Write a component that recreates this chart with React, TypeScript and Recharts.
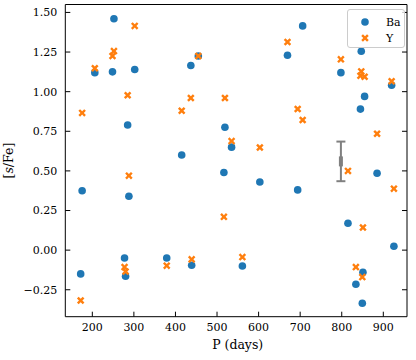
import React from 'react';
import { ScatterChart, Scatter, XAxis, YAxis, Legend, ErrorBar, Label } from 'recharts';

// one entry per star: orbital period and the two abundances
const periods = [172, 175.5, 206, 248.5, 252, 277.5, 280, 285, 288, 302, 379, 415, 437, 439, 455, 516.5, 519, 535, 561, 603, 669.5, 694, 706, 798, 815, 834, 845, 847, 849.5, 851, 855, 885, 920, 925.5];
const baValues = [-0.15, 0.375, 1.12, 1.125, 1.46, -0.05, -0.165, 0.79, 0.34, 1.14, -0.05, 0.6, 1.165, -0.095, 1.225, 0.49, 0.775, 0.65, -0.1, 0.43, 1.23, 0.38, 1.415, 1.12, 0.17, -0.215, 0.89, 1.255, -0.335, -0.14, 0.97, 0.485, 1.04, 0.025];
const yValues = [-0.318, 0.866, 1.148, 1.225, 1.256, -0.107, -0.135, 0.977, 0.47, 1.415, -0.098, 0.88, 0.96, -0.058, 1.225, 0.21, 0.96, 0.688, -0.044, 0.648, 1.313, 0.891, 0.821, 1.204, 0.5, -0.107, 1.1, 1.128, -0.17, 0.143, 1.094, 0.734, 1.066, 0.388];

// typical uncertainty shown as a grey error bar
const errPeriod = [798];
const errCenter = [0.56];
const errSize = [0.125];

const xTicks = [200, 300, 400, 500, 600, 700, 800, 900];
const yTicks = [-0.25, 0, 0.25, 0.5, 0.75, 1.0, 1.25, 1.5];

const COLORS = {
  BA: '#1f77b4',
  Y: '#ff7f0e',
  ERR: '#808080',
  AXIS: '#000000',
};
const FONT = '"DejaVu Serif", serif';

const baData = periods.map((p, i) => ({ p, v: baValues[i] }));
const yData = periods.map((p, i) => ({ p, v: yValues[i] }));
const errData = errPeriod.map((p, i) => ({ p, v: errCenter[i], err: errSize[i] }));

// matplotlib-style filled "X" marker
const xPath = (cx: number, cy: number, a = 4.1, w = 1.2) => {
  const pts = [[w, a], [w, w], [a, w], [a, -w], [w, -w], [w, -a], [-w, -a], [-w, -w], [-a, -w], [-a, w], [-w, w], [-w, a]];
  const r = Math.SQRT1_2;
  return pts.map(([x, y], i) => `${i ? 'L' : 'M'}${(cx + (x - y) * r).toFixed(2)},${(cy + (x + y) * r).toFixed(2)}`).join('') + 'Z';
};

const BaDot = (props: any) => <circle cx={props.cx} cy={props.cy} r={3.8} fill={COLORS.BA} />;
const YCross = (props: any) => <path d={xPath(props.cx, props.cy)} fill={COLORS.Y} />;
const ErrMark = (props: any) => <rect x={props.cx - 2} y={props.cy - 5} width={4} height={10} fill={COLORS.ERR} />;
const NoTick = () => <g />;

const fmt = (v: number) => v.toFixed(2).replace('-', '\u2212');
const tickStyle = { fontFamily: FONT, fontSize: 11, fill: '#000' };

const renderLegend = (props: any) => {
  const items = (props.payload || []).filter((p: any) => p.type !== 'none');
  return (
    <div style={{
      width: 58, height: 39, boxSizing: 'border-box', border: '1px solid #cccccc', borderRadius: 3,
      background: 'rgba(255,255,255,0.8)', fontFamily: FONT, fontSize: 11, color: '#000', paddingTop: 4,
    }}>
      {items.map((it: any) => (
        <div key={it.value} style={{ display: 'flex', alignItems: 'center', height: 16 }}>
          <svg width={34} height={16} style={{ display: 'block' }}>
            {it.value === 'Ba'
              ? <circle cx={17} cy={8} r={3.8} fill={COLORS.BA} />
              : <path d={xPath(17, 8)} fill={COLORS.Y} />}
          </svg>
          <span style={{ marginLeft: 4 }}>{it.value}</span>
        </div>
      ))}
    </div>
  );
};

export default function App() {
  return (
    <div style={{ width: 416, height: 360, position: 'relative', background: '#fff' }}>
      <style>{'body{margin:0}'}</style>
      <ScatterChart width={416} height={360} margin={{ top: 3.5, right: 8, bottom: 0, left: 0 }}>
        <XAxis xAxisId="b" dataKey="p" type="number" domain={[135, 957]} allowDataOverflow ticks={xTicks}
          height={43.3} tickSize={-5} tickMargin={11.5} tick={tickStyle}
          axisLine={{ stroke: COLORS.AXIS }} tickLine={{ stroke: COLORS.AXIS }}>
          <Label content={() => (
            <text x={237.7} y={349} textAnchor="middle" fontFamily={FONT} fontSize={12.5} fill="#000">P (days)</text>
          )} />
        </XAxis>
        <XAxis xAxisId="t" orientation="top" type="number" domain={[135, 957]} allowDataOverflow ticks={xTicks}
          height={1} tickSize={-5} tick={NoTick}
          axisLine={{ stroke: COLORS.AXIS }} tickLine={{ stroke: COLORS.AXIS }} />
        <YAxis yAxisId="l" dataKey="v" type="number" domain={[-0.42, 1.55]} allowDataOverflow ticks={yTicks}
          width={65.3} tickSize={-5} tickMargin={13} tick={tickStyle} tickFormatter={fmt}
          axisLine={{ stroke: COLORS.AXIS }} tickLine={{ stroke: COLORS.AXIS }}>
          <Label content={() => (
            <text transform="translate(12.5,160.6) rotate(-90)" textAnchor="middle" fontFamily={FONT} fontSize={12.5} fill="#000">
              [<tspan fontStyle="italic">s</tspan>/Fe]
            </text>
          )} />
        </YAxis>
        <YAxis yAxisId="r" orientation="right" type="number" domain={[-0.42, 1.55]} allowDataOverflow ticks={yTicks}
          width={1} tickSize={-5} tick={NoTick}
          axisLine={{ stroke: COLORS.AXIS }} tickLine={{ stroke: COLORS.AXIS }} />
        <Legend layout="vertical" align="center" verticalAlign="middle" content={renderLegend}
          wrapperStyle={{ position: 'absolute', top: 9, left: 347, width: 58, height: 39 }} />
        <Scatter name="Ba" data={baData} xAxisId="b" yAxisId="l" fill={COLORS.BA} shape={BaDot} isAnimationActive={false} />
        <Scatter name="Y" data={yData} xAxisId="b" yAxisId="l" fill={COLORS.Y} shape={YCross} isAnimationActive={false} />
        <Scatter name="err" data={errData} xAxisId="b" yAxisId="l" fill={COLORS.ERR} shape={ErrMark} legendType="none" isAnimationActive={false}>
          <ErrorBar dataKey="err" direction="y" width={4.5} stroke={COLORS.ERR} strokeWidth={2} />
        </Scatter>
      </ScatterChart>
    </div>
  );
}
